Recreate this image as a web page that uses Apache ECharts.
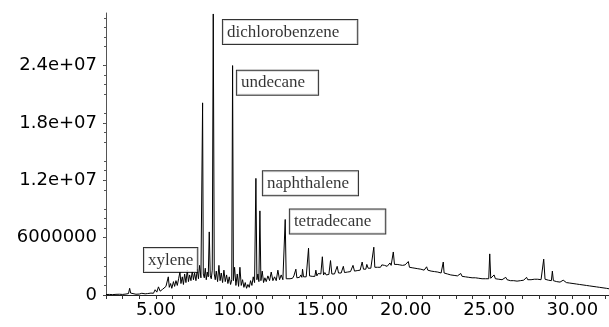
<!DOCTYPE html>
<html>
<head>
<meta charset="utf-8">
<script src="https://cdn.jsdelivr.net/npm/echarts@6/dist/echarts.min.js"></script>
<style>
  html, body { margin: 0; padding: 0; background: #fff; }
  #chart { width: 609px; height: 327px; }
</style>
</head>
<body>
<div id="chart"></div>
<script>
// retention time (min), abundance in millions of counts
const earlyTrace = [
  [2.00,0.05],[2.20,0.06],[2.40,0.04],[2.60,0.07],[2.80,0.08],[3.00,0.06],[3.20,0.10],[3.35,0.15],
  [3.42,0.70],[3.48,0.20],[3.60,0.12],[3.80,0.08],[4.00,0.10],[4.15,0.18],[4.25,0.30],[4.35,0.12],
  [4.50,0.15],[4.70,0.20],[4.85,0.18],[4.95,0.55],[5.05,0.30],[5.15,0.85],[5.25,0.40],[5.40,0.60],
  [5.50,0.45],[5.60,0.90],[5.68,0.70],[5.74,1.90],[5.80,0.80],[5.88,1.20],[5.95,0.70],[6.05,1.40],
  [6.12,0.90],[6.20,1.50],[6.28,1.00],[6.36,1.70],[6.44,2.40],[6.50,1.20],[6.58,1.90],[6.65,1.10],
  [6.72,2.20],[6.80,1.30],[6.88,2.60],[6.95,1.40],[7.02,2.10],[7.10,1.50],[7.18,2.50],[7.25,1.60],
  [7.32,2.30],[7.40,1.50],[7.48,2.70],[7.55,1.70],[7.62,3.10],[7.70,1.80]
];
const majorTrace = [
  [7.76,2.0],[7.80,20.1],[7.84,2.2],[7.90,1.8],[7.96,2.8],[8.02,1.6],[8.08,2.4],[8.14,1.9],
  [8.20,6.6],[8.26,2.0],[8.32,1.7],[8.38,2.6],[8.44,29.4],[8.50,2.2],[8.56,1.6],[8.62,2.5],
  [8.70,1.4],[8.78,3.1],[8.85,1.5],[8.92,2.3],[9.00,1.3],[9.08,2.6],[9.16,1.4],[9.24,2.1],
  [9.32,1.2],[9.40,1.9],[9.48,1.1],[9.55,1.6],[9.60,24.0],[9.65,1.5],[9.72,2.9],[9.80,1.0],
  [9.88,2.2],[9.96,0.9],[10.04,2.9],[10.12,1.0],[10.20,1.6],[10.28,0.8],[10.36,1.3],[10.44,0.7],
  [10.52,1.1],[10.60,0.8],[10.68,1.5],[10.76,1.0],[10.84,1.9],[10.92,1.3],[11.00,12.2],[11.06,1.6],
  [11.12,2.2],[11.18,1.4],[11.24,8.8],[11.30,1.5],[11.38,2.5],[11.46,1.3],[11.54,1.8],[11.62,1.4],
  [11.72,2.0],[11.82,1.5],[11.92,2.4],[12.02,1.5],[12.12,1.9],[12.22,1.5],[12.32,2.6],[12.42,1.6],
  [12.52,2.1],[12.62,1.6],[12.70,1.7],[12.76,7.9],[12.82,1.7],[12.92,1.9]
];
const midTrace = [
  [13.05,1.7],[13.14,1.9],[13.20,1.75],[13.28,2.0],[13.34,1.8],[13.40,2.7],[13.46,1.8],[13.55,2.0],
  [13.62,1.85],[13.70,2.1],[13.76,1.85],[13.80,2.7],[13.86,1.9],[13.94,2.1],[14.02,1.9],[14.10,2.0],
  [14.16,4.9],[14.22,2.0],[14.30,2.2],[14.38,1.95],[14.46,2.15],[14.54,1.95],[14.60,2.6],[14.66,2.0],
  [14.74,2.25],[14.82,2.05],[14.90,2.2],[14.99,4.0],[15.06,2.1],[15.14,2.35],[15.22,2.1],[15.30,2.3],
  [15.38,2.15],[15.48,3.6],[15.56,2.2],[15.64,2.4],[15.72,2.2],[15.80,2.35],[15.88,3.0],[15.96,2.3],
  [16.04,2.45],[16.12,2.3],[16.20,2.45],[16.25,3.0],[16.32,2.35],[16.40,2.55],[16.50,2.4],[16.60,2.55],
  [16.68,2.45],[16.76,2.6],[16.83,3.1],[16.92,2.5],[17.00,2.7],[17.08,2.55],[17.18,2.75],[17.26,2.6],
  [17.32,2.75],[17.38,3.45],[17.46,2.7],[17.54,2.85],[17.60,2.7],[17.66,3.2],[17.74,2.8],[17.82,2.95],
  [17.90,2.8],[18.00,2.95],[18.08,5.0],[18.14,2.9],[18.22,3.05],[18.30,2.9],[18.40,3.0],[18.48,2.9],
  [18.56,3.15],[18.64,3.0],[18.72,3.1],[18.80,3.25],[18.88,3.0],[18.96,3.15],[19.05,3.35],[19.12,3.1],
  [19.18,3.3],[19.25,4.5],[19.32,3.2],[19.40,3.1],[19.48,3.2],[19.56,3.05],[19.64,3.15],[19.72,3.0],
  [19.80,3.1],[19.88,2.95],[19.96,3.15],[20.05,3.0],[20.15,3.5],[20.22,2.9],[20.30,3.0],[20.38,2.85]
];
const lateTrace = [
  [20.46,2.95],[20.55,2.8],[20.64,2.85],[20.72,2.75],[20.82,2.85],[20.90,2.7],[21.00,2.75],[21.10,2.6],
  [21.18,2.7],[21.25,2.95],[21.32,2.6],[21.42,2.6],[21.52,2.5],[21.62,2.55],[21.72,2.45],[21.82,2.5],
  [21.92,2.4],[22.02,2.4],[22.12,2.3],[22.20,2.35],[22.25,3.45],[22.30,2.3],[22.40,2.25],[22.50,2.2],
  [22.60,2.25],[22.70,2.1],[22.80,2.15],[22.90,2.05],[23.00,2.1],[23.10,2.0],[23.20,2.05],[23.30,2.25],
  [23.38,1.95],[23.48,2.0],[23.58,1.9],[23.68,1.95],[23.78,1.85],[23.88,1.95],[23.98,1.8],[24.08,1.9],
  [24.18,1.8],[24.28,1.85],[24.38,1.75],[24.48,1.85],[24.58,1.7],[24.68,1.8],[24.78,1.7],[24.90,1.75],
  [24.98,1.7],[25.04,4.3],[25.10,1.75],[25.20,1.8],[25.30,2.1],[25.38,1.7],[25.48,1.75],[25.58,1.65],
  [25.68,1.7],[25.78,1.6],[25.88,1.65],[26.00,1.85],[26.08,1.6],[26.18,1.6],[26.28,1.5],[26.38,1.6],
  [26.48,1.5],[26.58,1.55],[26.68,1.45],[26.78,1.55],[26.88,1.5],[26.98,1.6],[27.08,1.55],[27.18,1.6],
  [27.25,1.85],[27.32,1.6],[27.42,1.65],[27.52,1.6],[27.62,1.7],[27.72,1.65],[27.82,1.75],[27.92,1.65],
  [28.02,1.7],[28.12,1.6],[28.20,1.65],[28.28,3.75],[28.36,1.65],[28.46,1.6],[28.56,1.55],[28.66,1.6],
  [28.74,1.5],[28.80,2.5],[28.86,1.5],[28.96,1.5],[29.06,1.4],[29.16,1.45],[29.26,1.35],[29.36,1.45],
  [29.45,1.55],[29.54,1.35],[29.64,1.3],[29.74,1.35],[29.84,1.25],[29.94,1.3],[30.04,1.2],[30.14,1.2],
  [30.24,1.15],[30.34,1.15],[30.44,1.1],[30.54,1.1],[30.64,1.05],[30.74,1.0],[30.84,1.0],[30.94,0.95],
  [31.04,0.95],[31.14,0.85],[31.24,0.9],[31.34,0.8],[31.44,0.85],[31.54,0.75],[31.64,0.8],[31.74,0.7],
  [31.84,0.75],[31.94,0.65],[32.04,0.7],[32.20,0.65]
];

const peakNames = ["xylene", "dichlorobenzene", "undecane", "naphthalene", "tetradecane"];
const xTickValues = [2,3,4,5,6,7,8,9,10,11,12,13,14,15,16,17,18,19,20,21,22,23,24,25,26,27,28,29,30,31,32];
const xLabelValues = [5, 10, 15, 20, 25, 30];
const yLabelValues = [0, 6000000, 12000000, 18000000, 24000000];

// where each name box sits (left edge, vertical middle), in axis units
const boxAnchor = {
  xylene: [4.28, 3.65],
  dichlorobenzene: [9.02, 27.5],
  undecane: [9.86, 22.2],
  naphthalene: [11.42, 11.7],
  tetradecane: [13.04, 7.7]
};
const boxPadRight = { xylene: 4, dichlorobenzene: 18, undecane: 13, naphthalene: 9, tetradecane: 14 };

const trace = earlyTrace.concat(majorTrace, midTrace, lateTrace).map(function (p) {
  return [p[0], p[1] * 1e6];
});

function yFmt(v) {
  if (v === 0) return "0";
  if (v < 1e7) return String(v);
  let s = v.toExponential(1);
  return s.replace(/e\+(\d)$/, "e+0$1");
}

let chart = echarts.init(document.getElementById("chart"));
let option = {
  backgroundColor: "#fff",
  animation: false,
  grid: { left: 106, right: 0, top: 13, bottom: 32 },
  xAxis: {
    type: "value",
    min: 2,
    max: 32.2,
    axisLine: { lineStyle: { color: "#222", width: 1 } },
    axisTick: { customValues: xTickValues, length: 4, lineStyle: { color: "#333" } },
    axisLabel: {
      customValues: xLabelValues,
      formatter: function (v) { return v.toFixed(2); },
      color: "#000",
      fontFamily: "DejaVu Sans",
      fontSize: 18,
      margin: 6
    },
    splitLine: { show: false }
  },
  yAxis: {
    type: "value",
    min: 0,
    max: 29500000,
    axisLine: { show: true, lineStyle: { color: "#555", width: 1 } },
    axisTick: { customValues: yLabelValues, length: 3, lineStyle: { color: "#444" } },
    minorTick: { show: true, splitNumber: 5, length: 2, lineStyle: { color: "#555" } },
    axisLabel: {
      customValues: yLabelValues,
      formatter: yFmt,
      color: "#000",
      fontFamily: "DejaVu Sans",
      fontSize: 18,
      margin: 9
    },
    splitLine: { show: false }
  },
  series: [
    {
      type: "line",
      data: trace,
      showSymbol: false,
      symbol: "none",
      lineStyle: { color: "#000", width: 1 },
      z: 2
    },
    {
      type: "scatter",
      symbolSize: 0,
      z: 5,
      data: peakNames.map(function (n) {
        return {
          name: n,
          value: [boxAnchor[n][0], boxAnchor[n][1] * 1e6],
          label: { padding: [4, boxPadRight[n], 3, 4] }
        };
      }),
      label: {
        show: true,
        position: "right",
        distance: 0,
        formatter: "{b}",
        fontFamily: "Liberation Serif",
        fontSize: 17,
        color: "#000",
        backgroundColor: "#fff",
        borderColor: "#000",
        borderWidth: 1
      }
    }
  ]
};
chart.setOption(option);
</script>
</body>
</html>
